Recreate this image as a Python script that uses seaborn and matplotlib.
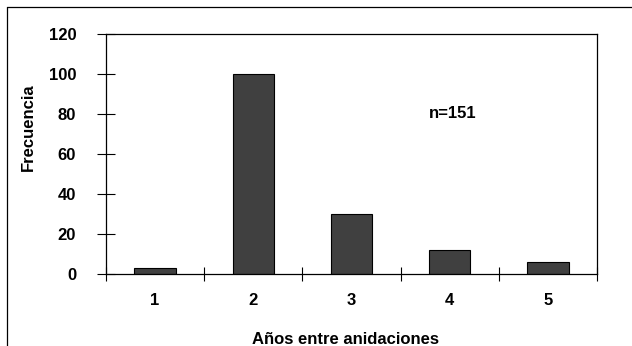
import matplotlib
matplotlib.use("Agg")
import matplotlib.pyplot as plt
import seaborn as sns
from matplotlib.lines import Line2D

# Data
years = ["1", "2", "3", "4", "5"]
freq = [3, 100, 30, 12, 6]
y_ticks = [0, 20, 40, 60, 80, 100, 120]
n_label = "n=151"

sns.set_style("white")
plt.rcParams['font.family'] = ['Liberation Sans', 'DejaVu Sans']
plt.rcParams['font.weight'] = 'bold'
plt.rcParams['text.color'] = 'black'
plt.rcParams['axes.labelcolor'] = 'black'
plt.rcParams['xtick.color'] = 'black'
plt.rcParams['ytick.color'] = 'black'

fig = plt.figure(figsize=(6.32, 3.46), dpi=100)
ax = fig.add_axes([0.1677, 0.2081, 0.7769, 0.6936])

sns.barplot(x=years, y=freq, color="#404040", edgecolor="black",
            linewidth=0.8, width=0.42, saturation=1, ax=ax)

ax.set_xlim(-0.5, 4.5)
ax.set_ylim(0, 120)
ax.set_yticks(y_ticks)
ax.set_yticklabels([str(v) for v in y_ticks], fontsize=12, fontweight='bold')

# labels at category centers, ticks at the boundaries
ax.set_xticks(range(len(years)))
ax.set_xticklabels(years, fontsize=12, fontweight='bold')
ax.tick_params(axis='x', which='major', bottom=True, length=0, pad=14)
ax.set_xticks([i - 0.5 for i in range(len(years) + 1)], minor=True)
ax.tick_params(axis='x', which='minor', bottom=True, direction='inout',
               length=10, width=0.8, color='black')
ax.tick_params(axis='y', which='major', left=True, direction='inout',
               length=13, width=0.8, color='black', pad=15)

for s in ax.spines.values():
    s.set_visible(True)
    s.set_color('black')
    s.set_linewidth(0.9)

ax.set_ylabel("Frecuencia", fontsize=12, fontweight='bold')
ax.yaxis.set_label_coords(-0.142, 0.6125)
ax.set_xlabel("Años entre anidaciones", fontsize=12, fontweight='bold')
ax.xaxis.set_label_coords(0.487, -0.2417)

ax.text(3.03, 80.5, n_label, fontsize=12, fontweight='bold', ha='center', va='center')

# outer frame (left and top edges)
fig.add_artist(Line2D([7 / 632, 7 / 632], [0, 1 - 7 / 346], color='black', lw=0.9))
fig.add_artist(Line2D([7 / 632, 1], [1 - 7 / 346, 1 - 7 / 346], color='black', lw=0.9))

fig.savefig("out.png", dpi=100)
